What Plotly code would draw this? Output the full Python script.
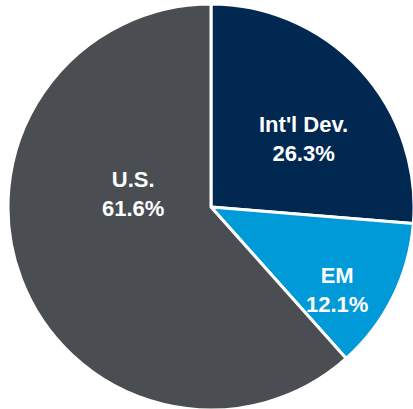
import plotly.graph_objects as go

regions = ["Int'l Dev.", "EM", "U.S."]
weights = [26.3, 12.1, 61.6]
colors = ["#002851", "#009ad9", "#4a4d52"]

# label anchor points (paper coordinates) for each slice
label_x = [0.727, 0.810, 0.308]
label_y = [0.667, 0.296, 0.532]

fig = go.Figure(
    go.Pie(
        labels=regions,
        values=weights,
        textinfo="none",
        marker=dict(colors=colors, line=dict(color="white", width=3)),
        sort=False,
        direction="clockwise",
        rotation=0,
        hoverinfo="skip",
    )
)

for r, w, x, y in zip(regions, weights, label_x, label_y):
    fig.add_annotation(
        x=x, y=y, xref="paper", yref="paper",
        text=f"<b>{r}<br>{w:.1f}%</b>",
        showarrow=False,
        xanchor="center", yanchor="middle",
        font=dict(family="Liberation Sans, Arial, sans-serif", size=22, color="white"),
    )

fig.update_layout(
    width=414,
    height=410,
    margin=dict(l=8, r=0, t=4, b=0),
    showlegend=False,
    paper_bgcolor="white",
    plot_bgcolor="white",
)

fig.write_html("out.html")
